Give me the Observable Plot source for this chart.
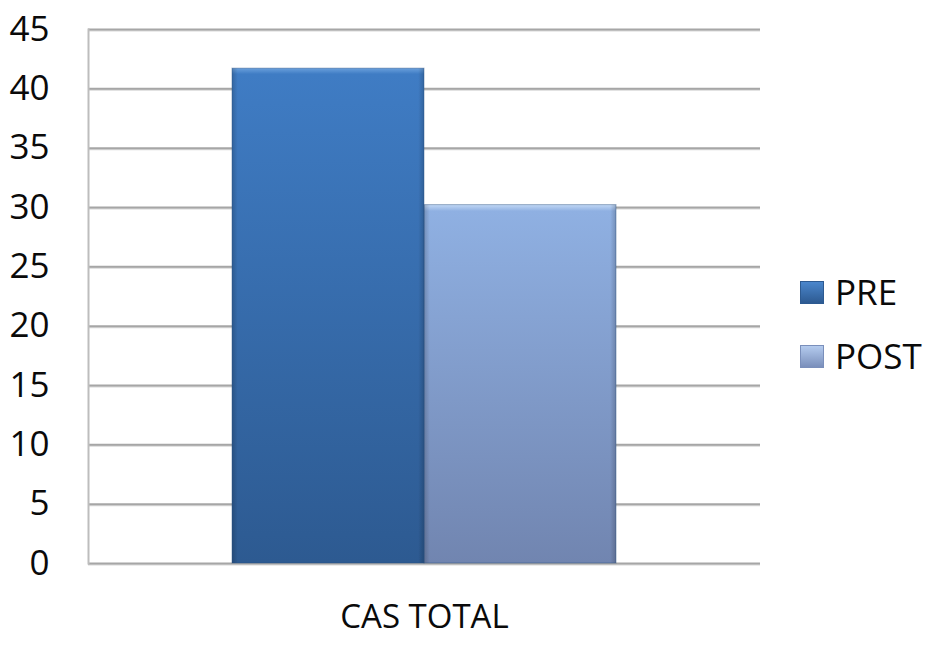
<!DOCTYPE html>
<html>
<head>
<meta charset="utf-8">
<script src="https://cdn.jsdelivr.net/npm/d3@7"></script>
<script src="https://cdn.jsdelivr.net/npm/@observablehq/plot@0.6"></script>
<style>
  html, body { margin: 0; padding: 0; background: #fff; }
  #wrap { position: relative; width: 931px; height: 645px; }
  .legend { position: absolute; left: 800px; height: 24px; font-family: "Open Sans", sans-serif; font-size: 35px; line-height: 24px; color: #0a0a0a; display: flex; align-items: center; white-space: nowrap; }
  .legend .sw { width: 24px; height: 23px; margin-right: 11px; box-sizing: border-box; flex: none; }
</style>
</head>
<body>
<div id="wrap"></div>
<script>
const categories = ["CAS TOTAL"];
const series = ["PRE", "POST"];
const values = [41.7, 30.2];
const yTicks = [0, 5, 10, 15, 20, 25, 30, 35, 40, 45];
const colors = ["url(#gPre)", "url(#gPost)"];

const data = series.map((s, i) => ({category: categories[0], series: s, value: values[i]}));

const chart = Plot.plot({
  width: 931,
  height: 645,
  marginLeft: 88,
  marginRight: 171,
  marginTop: 29,
  marginBottom: 82,
  style: {fontFamily: "'Open Sans', sans-serif", color: "#0a0a0a", background: "#fff"},
  fx: {domain: categories, padding: 0, label: null},
  x: {domain: series, paddingInner: 0, paddingOuter: 0.75, axis: null},
  y: {domain: [0, 45], label: null},
  color: {domain: series, range: colors},
  marks: [
    Plot.gridY(yTicks, {stroke: "#d8d8d8", strokeOpacity: 1, strokeWidth: 2, dy: 1}),
    Plot.gridY(yTicks, {stroke: "#a6a6a6", strokeOpacity: 1, strokeWidth: 2}),
    Plot.frame({anchor: "left", stroke: "#bdbdbd", strokeWidth: 2}),
    Plot.barY(data, {fx: "category", x: "series", y: "value", fill: "series"}),
    Plot.barY(data, {fx: "category", x: "series", y: "value", fill: "url(#bevel)", stroke: "#2a4f80", strokeWidth: 1, strokeOpacity: 0.45}),
    Plot.axisY(yTicks, {tickSize: 0, tickPadding: 39, fontSize: 35, label: null}),
    Plot.axisFx({anchor: "bottom", tickSize: 0, tickPadding: 41, fontSize: 33, label: null})
  ]
});

const defs = `<defs>
  <linearGradient id="gPre" x1="0" y1="0" x2="0" y2="1">
    <stop offset="0" stop-color="#6aa0dc"/>
    <stop offset="0.012" stop-color="#3f7cc4"/>
    <stop offset="1" stop-color="#2d5a91"/>
  </linearGradient>
  <linearGradient id="gPost" x1="0" y1="0" x2="0" y2="1">
    <stop offset="0" stop-color="#c2d8f5"/>
    <stop offset="0.018" stop-color="#8fb0e2"/>
    <stop offset="1" stop-color="#7185b0"/>
  </linearGradient>
  <linearGradient id="bevel" x1="0" y1="0" x2="1" y2="0">
    <stop offset="0" stop-color="#000" stop-opacity="0.18"/>
    <stop offset="0.03" stop-color="#000" stop-opacity="0"/>
    <stop offset="0.97" stop-color="#000" stop-opacity="0"/>
    <stop offset="1" stop-color="#000" stop-opacity="0.18"/>
  </linearGradient>
</defs>`;
chart.insertAdjacentHTML("afterbegin", defs);
document.getElementById("wrap").appendChild(chart);

const legendColors = [["#4a86cc", "#2d5a91"], ["#b4cbee", "#7a8fbb"]];
series.forEach((s, i) => {
  const d = document.createElement("div");
  d.className = "legend";
  d.style.top = (i === 0 ? 280 : 344) + "px";
  d.innerHTML = `<span class="sw" style="background:linear-gradient(${legendColors[i][0]}, ${legendColors[i][1]});border:1px solid ${legendColors[i][1]}"></span>${s}`;
  document.getElementById("wrap").appendChild(d);
});
</script>
</body>
</html>
